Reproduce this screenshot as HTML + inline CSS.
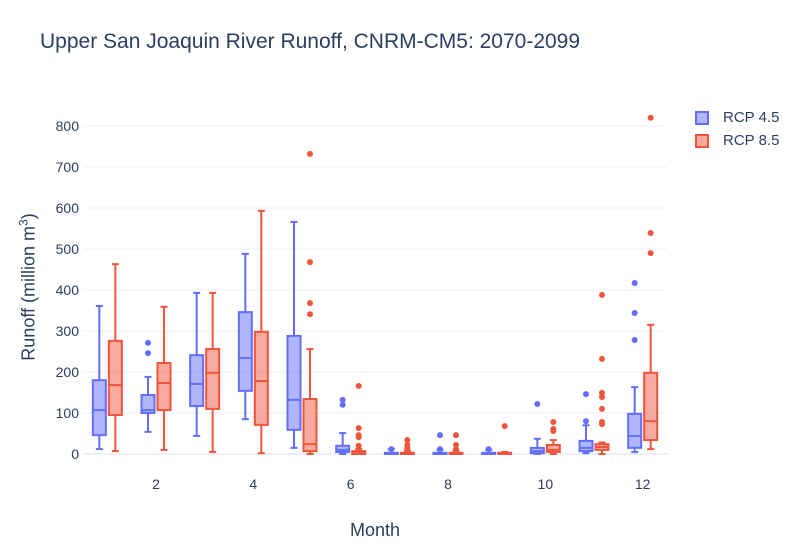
<!DOCTYPE html>
<html><head><meta charset="utf-8"><style>
body{margin:0;background:#fff;font-family:"Liberation Sans",sans-serif;}
svg text{font-family:"Liberation Sans",sans-serif;fill:#2a3f5f;}
</style></head><body>
<svg id="c" width="797" height="553"></svg>
<script>
const months=[1,2,3,4,5,6,7,8,9,10,11,12];
const yTicks=[0,100,200,300,400,500,600,700,800];
const xTicks=[2,4,6,8,10,12];
// [low, q1, median, q3, high]
const rcp45=[[12,46,107,180,361],[54,100,107,144,188],[44,117,171,241,393],[85,154,234,346,488],[15,59,132,288,566],[0,5,10,20,51],[0,0,1,3,12],[0,0,1,3,10],[0,0,1,3,10],[0,2,7,15,37],[2,7,15,32,70],[5,15,44,98,163]];
const rcp45Out=[[],[271,246],[],[],[],[132,120],[12],[46,12],[12],[122],[146,80],[417,344,278]];
const rcp85=[[7,95,168,276,463],[10,107,173,222,359],[5,110,198,256,393],[2,71,178,298,593],[0,7,24,134,256],[0,0,2,7,12],[0,0,1,3,8],[0,0,1,3,8],[0,0,1,3,5],[0,5,10,22,34],[0,10,17,24,28],[12,34,80,198,315]];
const rcp85Out=[[],[],[],[],[732,468,368,341],[166,63,46,41,20],[34,22,15,10],[46,22,12],[68],[78,61,56],[388,232,149,139,110,78,73],[820,539,490]];
const NS="http://www.w3.org/2000/svg";
const svg=document.getElementById('c');
const L=83,R=667,T=100,B=454;
const xS=m=>L+(m-0.5)*(R-L)/12;
const yS=v=>B-v*0.41;
function el(tag,attrs,parent){const e=document.createElementNS(NS,tag);for(const k in attrs)e.setAttribute(k,attrs[k]);(parent||svg).appendChild(e);return e;}
yTicks.forEach(t=>{
  const g=el('line',{x1:L,x2:R,y1:yS(t),y2:yS(t),stroke:'#EBF0F8','stroke-width':t===0?2:1});
  
  
  const tx=el('text',{x:79,y:yS(t)+5,'text-anchor':'end','font-size':14});
  tx.textContent=t;
  
  
});
xTicks.forEach(t=>{
  const tx=el('text',{x:xS(t),y:489,'text-anchor':'middle','font-size':14});
  tx.textContent=t;
  
  
});
function drawBox(m,s,out,off,col,fill,name){
  const cx=xS(m)+off,w=13;
  const g=el('g',{});
  
  
  el('line',{x1:cx,x2:cx,y1:yS(s[0]),y2:yS(s[1]),stroke:col,'stroke-width':2},g);
  el('line',{x1:cx,x2:cx,y1:yS(s[3]),y2:yS(s[4]),stroke:col,'stroke-width':2},g);
  el('line',{x1:cx-3.5,x2:cx+3.5,y1:yS(s[0]),y2:yS(s[0]),stroke:col,'stroke-width':2},g);
  el('line',{x1:cx-3.5,x2:cx+3.5,y1:yS(s[4]),y2:yS(s[4]),stroke:col,'stroke-width':2},g);
  el('rect',{x:cx-w/2,y:yS(s[3]),width:w,height:Math.max(1,yS(s[1])-yS(s[3])),fill:fill,stroke:col,'stroke-width':2},g);
  el('line',{x1:cx-w/2,x2:cx+w/2,y1:yS(s[2]),y2:yS(s[2]),stroke:col,'stroke-width':2},g);
  out.forEach(v=>{el('circle',{cx:cx,cy:yS(v),r:3,fill:col},g);});
}
months.forEach((m,i)=>{
  drawBox(m,rcp45[i],rcp45Out[i],-8,'#636efa','rgba(99,110,250,0.5)','rcp45-box');
  drawBox(m,rcp85[i],rcp85Out[i],8,'#EF553B','rgba(239,85,59,0.5)','rcp85-box');
});
</script>
<div style="position:absolute;left:40px;top:30px;font-size:21px;color:#2a3f5f">Upper San Joaquin River Runoff, CNRM-CM5: 2070-2099</div>
<div style="position:absolute;left:350px;top:520px;font-size:18px;color:#2a3f5f">Month</div>
<div style="position:absolute;left:28px;top:287px;font-size:18px;color:#2a3f5f;transform:translate(-50%,-50%) rotate(-90deg);white-space:nowrap">Runoff (million m<sup style="font-size:12px">3</sup>)</div>
<div style="position:absolute;left:695px;top:106px;font-size:15px;color:#2a3f5f">
 <div style="height:23px;display:flex;align-items:center"><span style="width:10px;height:10px;border:2px solid #636efa;background:rgba(99,110,250,0.5);display:inline-block;margin-right:14px"></span>RCP 4.5</div>
 <div style="height:23px;display:flex;align-items:center"><span style="width:10px;height:10px;border:2px solid #EF553B;background:rgba(239,85,59,0.5);display:inline-block;margin-right:14px"></span>RCP 8.5</div>
</div>
</body></html>
